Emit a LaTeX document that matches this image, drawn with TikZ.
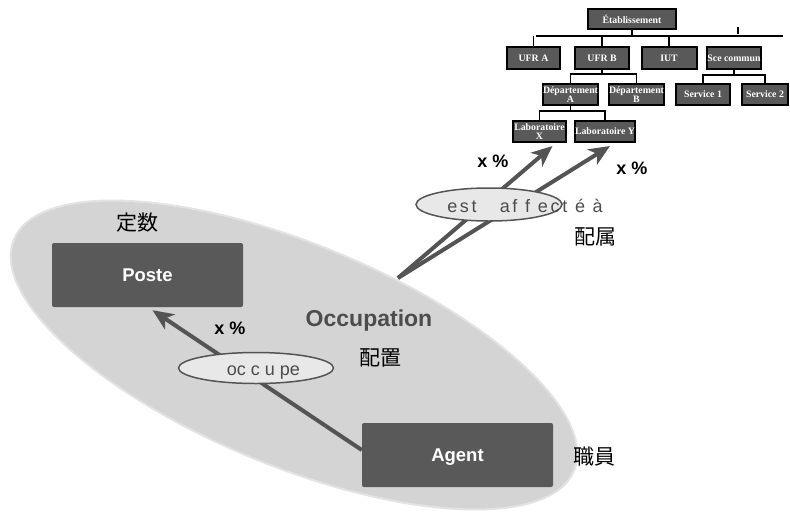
\documentclass[tikz,border=0pt]{standalone}
\usepackage{fontspec}
\setmainfont{Liberation Sans}
\newfontfamily\orgfont{Liberation Serif}
\newfontfamily\cjk{Noto Sans CJK JP}
\newfontfamily\spacedfont[LetterSpace=15]{Liberation Sans}
\usetikzlibrary{shapes.geometric,arrows.meta}
\definecolor{boxgray}{rgb}{0.35,0.35,0.35}
\definecolor{arrowgray}{rgb}{0.33,0.33,0.33}
\definecolor{occgray}{rgb}{0.83,0.83,0.83}
\definecolor{occedge}{rgb}{0.89,0.89,0.89}
\definecolor{bubblegray}{rgb}{0.91,0.91,0.91}
\definecolor{textgray}{rgb}{0.3,0.3,0.3}

\begin{document}
\begin{tikzpicture}[x=1pt,y=-1pt,
  orgbox/.style={draw=black,line width=2pt,fill=boxgray,text=white,inner sep=0pt,align=center,
    font=\orgfont\bfseries\fontsize{9.8}{9.5}\selectfont},
  orgline/.style={line width=1.6pt},
  bigbox/.style={fill=boxgray,rounded corners=2pt,minimum width=191pt,minimum height=64pt,
    text depth=0pt,text=white,font=\bfseries\fontsize{18.5}{20}\selectfont},
  bubble/.style={ellipse,draw=arrowgray,line width=1.5pt,fill=bubblegray,inner sep=0pt},
  link/.style={draw=arrowgray,line width=4pt,-{Stealth[length=21pt,width=18pt,inset=6pt]}},
  pct/.style={font=\bfseries\fontsize{18}{18}\selectfont},
  kanji/.style={font=\cjk\fontsize{21}{21}\selectfont}]
\useasboundingbox (0,0) rectangle (790,512);

% organisation chart
\node[orgbox,minimum width=88pt,minimum height=20pt] (etab) at (632,19) {Établissement};
\node[orgbox,minimum width=53pt,minimum height=22pt] (ufra) at (533.5,58) {UFR A};
\node[orgbox,minimum width=54pt,minimum height=22pt] (ufrb) at (602,58) {UFR B};
\node[orgbox,minimum width=55pt,minimum height=22pt] (iut) at (669,58) {IUT};
\node[orgbox,minimum width=54pt,minimum height=22pt] (sce) at (734,58) {Sce commun};
\node[orgbox,minimum width=55pt,minimum height=21pt] (depa) at (570.5,94.5) {Département\\A};
\node[orgbox,minimum width=55pt,minimum height=21pt] (depb) at (636.5,94.5) {Département\\B};
\node[orgbox,minimum width=54pt,minimum height=21pt] (serv1) at (703,94.5) {Service 1};
\node[orgbox,minimum width=46pt,minimum height=21pt] (serv2) at (765,94.5) {Service 2};
\node[orgbox,minimum width=53pt,minimum height=21pt] (labx) at (539.5,131.5) {Laboratoire\\X};
\node[orgbox,minimum width=54pt,minimum height=21pt] (laby) at (605,131.5) {Laboratoire Y};

\coordinate (barL) at (536,36);
\coordinate (barR) at (783,36);
\coordinate (tick) at (738,34);
\draw[orgline] (barL) -- (barR);
\draw[orgline] (etab.south) -- (etab.south |- barL);
\draw[orgline] (ufra.north) -- (ufra.north |- barL);
\draw[orgline] (ufrb.north) -- (ufrb.north |- barL);
\draw[orgline] (iut.north) -- (iut.north |- barL);
\draw[orgline] (tick) -- ++(0,-7);
\draw[orgline] (ufrb.south) -- ++(0,4);
\draw[orgline] (depa.north) -- ++(0,-9) -| (depb.north);
\draw[orgline] (depa.south) -- ++(0,5);
\draw[orgline] (labx.north) -- ++(0,-9) -| (laby.north);
\draw[orgline] (sce.south) -- ++(0,4);
\draw[orgline] (serv1.north) -- ++(0,-8) -| (serv2.north);

% occupation
\node[ellipse,fill=occgray,draw=occedge,line width=2pt,minimum width=606pt,minimum height=222pt,
  inner sep=0pt,rotate=-22.4] (occ) at (294,355) {};
\node[anchor=base,text=textgray,font=\bfseries\fontsize{23}{23}\selectfont] (occname) at (369,326) {Occupation};
\node[bigbox] (poste) at (147.5,275) {Poste};
\node[bigbox] (agent) at (457.5,455) {Agent};

\coordinate (src) at (398,278);
\draw[link] (src) -- ([xshift=13pt,yshift=-3pt]labx.south);
\draw[link] (src) -- ([xshift=5pt,yshift=-3pt]laby.south);
\draw[link] ([yshift=5pt]agent.west) -- ([xshift=5pt,yshift=-3pt]poste.south);

\node[bubble,minimum width=146pt,minimum height=33pt] (affecte) at (489,204.5) {};
\node[anchor=base,text=textgray,font=\spacedfont\fontsize{18}{18}\selectfont] (affecttext) at (525,212) {est\ \ \ af f ect é à};
\node[bubble,minimum width=155pt,minimum height=31pt] (occupe) at (256,368) {};
\node[anchor=base,text=textgray,font=\fontsize{18}{18}\selectfont] (occupetext) at (263.5,375) {oc c u pe};

\node[pct] (pctposte) at (230,328) {x \%};
\node[pct] (pctx) at (493,161) {x \%};
\node[pct] (pcty) at (632,168) {x \%};

\node[kanji] (teisu) at (137,223) {定数};
\node[kanji] (haichi) at (380,358) {配置};
\node[kanji] (shokuin) at (594,457) {職員};
\node[kanji] (haizoku) at (595,237) {配属};
\end{tikzpicture}
\end{document}
